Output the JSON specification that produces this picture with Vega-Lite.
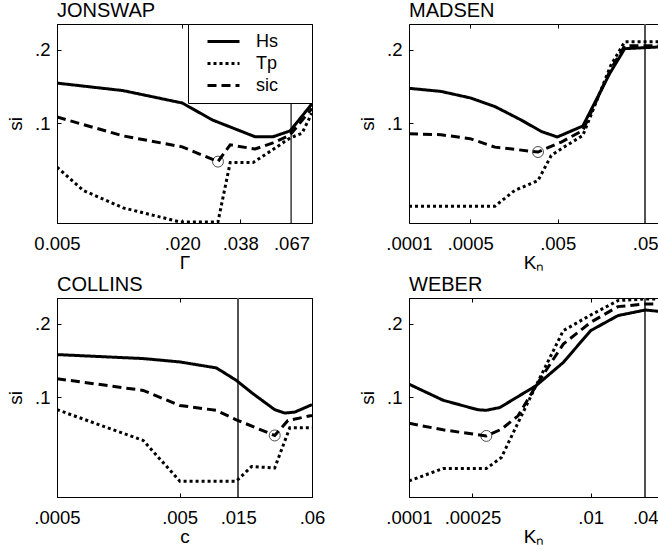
{
  "$schema": "https://vega.github.io/schema/vega-lite/v6.json",
  "autosize": {"type": "none"},
  "padding": {"left": 57, "top": 24, "right": 601, "bottom": 535},
  "background": "white",
  "datasets": {
    "jonswap": [
      {"k": 0.005, "si": 0.146, "series": "Hs"},
      {"k": 0.0104, "si": 0.136, "series": "Hs"},
      {"k": 0.02, "si": 0.121, "series": "Hs"},
      {"k": 0.028, "si": 0.103, "series": "Hs"},
      {"k": 0.0448, "si": 0.088, "series": "Hs"},
      {"k": 0.0546, "si": 0.088, "series": "Hs"},
      {"k": 0.066, "si": 0.093, "series": "Hs"},
      {"k": 0.084, "si": 0.12, "series": "Hs"},
      {"k": 0.005, "si": 0.066, "series": "Tp"},
      {"k": 0.0067, "si": 0.053, "series": "Tp"},
      {"k": 0.0104, "si": 0.045, "series": "Tp"},
      {"k": 0.0195, "si": 0.0394, "series": "Tp"},
      {"k": 0.0297, "si": 0.0394, "series": "Tp"},
      {"k": 0.034, "si": 0.069, "series": "Tp"},
      {"k": 0.0438, "si": 0.069, "series": "Tp"},
      {"k": 0.0546, "si": 0.078, "series": "Tp"},
      {"k": 0.066, "si": 0.087, "series": "Tp"},
      {"k": 0.0753, "si": 0.091, "series": "Tp"},
      {"k": 0.084, "si": 0.11, "series": "Tp"},
      {"k": 0.005, "si": 0.106, "series": "sic"},
      {"k": 0.0104, "si": 0.0887, "series": "sic"},
      {"k": 0.02, "si": 0.08, "series": "sic"},
      {"k": 0.0297, "si": 0.0696, "series": "sic"},
      {"k": 0.034, "si": 0.0815, "series": "sic"},
      {"k": 0.0448, "si": 0.0784, "series": "sic"},
      {"k": 0.0546, "si": 0.083, "series": "sic"},
      {"k": 0.066, "si": 0.0895, "series": "sic"},
      {"k": 0.084, "si": 0.115, "series": "sic"}
    ],
    "madsen": [
      {"k": 0.0001, "si": 0.139, "series": "Hs"},
      {"k": 0.000232, "si": 0.135, "series": "Hs"},
      {"k": 0.0005, "si": 0.127, "series": "Hs"},
      {"k": 0.00096, "si": 0.117, "series": "Hs"},
      {"k": 0.00192, "si": 0.103, "series": "Hs"},
      {"k": 0.00325, "si": 0.0925, "series": "Hs"},
      {"k": 0.00495, "si": 0.0878, "series": "Hs"},
      {"k": 0.0097, "si": 0.0974, "series": "Hs"},
      {"k": 0.0197, "si": 0.16, "series": "Hs"},
      {"k": 0.0292, "si": 0.202, "series": "Hs"},
      {"k": 0.075, "si": 0.2055, "series": "Hs"},
      {"k": 0.0001, "si": 0.0457, "series": "Tp"},
      {"k": 0.00096, "si": 0.0457, "series": "Tp"},
      {"k": 0.00161, "si": 0.053, "series": "Tp"},
      {"k": 0.00298, "si": 0.0582, "series": "Tp"},
      {"k": 0.00423, "si": 0.0738, "series": "Tp"},
      {"k": 0.0055, "si": 0.0786, "series": "Tp"},
      {"k": 0.0097, "si": 0.0891, "series": "Tp"},
      {"k": 0.0203, "si": 0.173, "series": "Tp"},
      {"k": 0.0292, "si": 0.2156, "series": "Tp"},
      {"k": 0.075, "si": 0.2156, "series": "Tp"},
      {"k": 0.0001, "si": 0.0905, "series": "sic"},
      {"k": 0.000232, "si": 0.0897, "series": "sic"},
      {"k": 0.0005, "si": 0.0864, "series": "sic"},
      {"k": 0.00096, "si": 0.0798, "series": "sic"},
      {"k": 0.00298, "si": 0.0762, "series": "sic"},
      {"k": 0.0055, "si": 0.0837, "series": "sic"},
      {"k": 0.0097, "si": 0.0934, "series": "sic"},
      {"k": 0.02, "si": 0.165, "series": "sic"},
      {"k": 0.0292, "si": 0.2075, "series": "sic"},
      {"k": 0.075, "si": 0.2075, "series": "sic"}
    ],
    "collins": [
      {"k": 0.0005, "si": 0.1495, "series": "Hs"},
      {"k": 0.00252, "si": 0.144, "series": "Hs"},
      {"k": 0.00502, "si": 0.1395, "series": "Hs"},
      {"k": 0.00998, "si": 0.1318, "series": "Hs"},
      {"k": 0.0145, "si": 0.1172, "series": "Hs"},
      {"k": 0.0198, "si": 0.1034, "series": "Hs"},
      {"k": 0.0298, "si": 0.0889, "series": "Hs"},
      {"k": 0.036, "si": 0.0861, "series": "Hs"},
      {"k": 0.0434, "si": 0.0869, "series": "Hs"},
      {"k": 0.06, "si": 0.0932, "series": "Hs"},
      {"k": 0.0005, "si": 0.0889, "series": "Tp"},
      {"k": 0.00252, "si": 0.0665, "series": "Tp"},
      {"k": 0.00502, "si": 0.0453, "series": "Tp"},
      {"k": 0.0145, "si": 0.0453, "series": "Tp"},
      {"k": 0.0193, "si": 0.052, "series": "Tp"},
      {"k": 0.0298, "si": 0.0513, "series": "Tp"},
      {"k": 0.0395, "si": 0.0749, "series": "Tp"},
      {"k": 0.06, "si": 0.0749, "series": "Tp"},
      {"k": 0.0005, "si": 0.1191, "series": "sic"},
      {"k": 0.00252, "si": 0.1066, "series": "sic"},
      {"k": 0.00502, "si": 0.0925, "series": "sic"},
      {"k": 0.00998, "si": 0.0883, "series": "sic"},
      {"k": 0.0145, "si": 0.0808, "series": "sic"},
      {"k": 0.0298, "si": 0.0697, "series": "sic"},
      {"k": 0.0382, "si": 0.0803, "series": "sic"},
      {"k": 0.06, "si": 0.0842, "series": "sic"}
    ],
    "weber": [
      {"k": 0.0001, "si": 0.1131, "series": "Hs"},
      {"k": 0.000237, "si": 0.0972, "series": "Hs"},
      {"k": 0.000575, "si": 0.0888, "series": "Hs"},
      {"k": 0.00071, "si": 0.0884, "series": "Hs"},
      {"k": 0.001, "si": 0.0907, "series": "Hs"},
      {"k": 0.0025, "si": 0.1114, "series": "Hs"},
      {"k": 0.005, "si": 0.1388, "series": "Hs"},
      {"k": 0.01, "si": 0.1874, "series": "Hs"},
      {"k": 0.02, "si": 0.216, "series": "Hs"},
      {"k": 0.04, "si": 0.2277, "series": "Hs"},
      {"k": 0.06, "si": 0.2243, "series": "Hs"},
      {"k": 0.0001, "si": 0.0454, "series": "Tp"},
      {"k": 0.000237, "si": 0.051, "series": "Tp"},
      {"k": 0.00071, "si": 0.051, "series": "Tp"},
      {"k": 0.00104, "si": 0.0566, "series": "Tp"},
      {"k": 0.00159, "si": 0.0787, "series": "Tp"},
      {"k": 0.0025, "si": 0.1114, "series": "Tp"},
      {"k": 0.005, "si": 0.1874, "series": "Tp"},
      {"k": 0.01, "si": 0.2171, "series": "Tp"},
      {"k": 0.02, "si": 0.2488, "series": "Tp"},
      {"k": 0.04, "si": 0.2526, "series": "Tp"},
      {"k": 0.06, "si": 0.2526, "series": "Tp"},
      {"k": 0.0001, "si": 0.0782, "series": "sic"},
      {"k": 0.000237, "si": 0.0735, "series": "sic"},
      {"k": 0.00071, "si": 0.0694, "series": "sic"},
      {"k": 0.00104, "si": 0.0739, "series": "sic"},
      {"k": 0.00159, "si": 0.0839, "series": "sic"},
      {"k": 0.0025, "si": 0.1114, "series": "sic"},
      {"k": 0.005, "si": 0.1651, "series": "sic"},
      {"k": 0.01, "si": 0.2027, "series": "sic"},
      {"k": 0.02, "si": 0.2351, "series": "sic"},
      {"k": 0.04, "si": 0.241, "series": "sic"},
      {"k": 0.06, "si": 0.241, "series": "sic"}
    ]
  },
  "columns": 2,
  "spacing": {"row": 75, "column": 97},
  "bounds": "flush",
  "resolve": {"scale": {"x": "independent", "y": "independent"}, "legend": {"strokeDash": "independent"}},
  "concat": [
    {
      "title": "JONSWAP",
      "width": 255, "height": 199,
      "data": {"name": "jonswap"},
      "resolve": {"axis": {"x": "independent"}},
      "layer": [
        {
          "mark": {"type": "rule", "color": "#555555", "strokeWidth": 0.7},
          "encoding": {"x": {"datum": 0.067, "type": "quantitative", "axis": {"orient": "top", "labels": false, "title": null, "values": [0.005, 0.02, 0.038, 0.067]}}}
        },
        {
          "mark": {"type": "line", "color": "black", "strokeWidth": 3, "strokeCap": "butt", "clip": true},
          "encoding": {
            "x": {"field": "k", "type": "quantitative", "scale": {"type": "log", "domain": [0.005, 0.0841], "nice": false},
                  "axis": {"title": "Γ", "values": [0.005, 0.02, 0.038, 0.067], "format": ".3f", "labelExpr": "datum.value < 0.01 ? datum.label : slice(datum.label, 1)"}},
            "y": {"field": "si", "type": "quantitative", "scale": {"type": "log", "domain": [0.039, 0.255], "nice": false},
                  "axis": {"title": "si", "values": [0.1, 0.2], "labelExpr": "datum.value < 0.15 ? '.1' : '.2'"}},
            "strokeDash": {"field": "series", "type": "nominal", "scale": {"domain": ["Hs", "Tp", "sic"], "range": [[1, 0], [3, 3], [9, 5]]},
                  "legend": {"orient": "top-right", "offset": 0, "title": null, "strokeColor": "black", "fillColor": "white", "padding": 8,
                             "symbolType": "M-2,0H2", "symbolSize": 256, "symbolStrokeWidth": 3, "symbolStrokeColor": "black",
                             "symbolOffset": 18, "labelOffset": 23, "labelFontSize": 18, "labelColor": "black", "rowPadding": 3,
                             "labelExpr": "datum.label + '\u00a0\u00a0\u00a0\u00a0\u00a0\u200b'"}}
          }
        },
        {
          "transform": [
            {"filter": "datum.series == 'sic'"},
            {"joinaggregate": [{"op": "min", "field": "si", "as": "smin"}]},
            {"filter": "datum.si == datum.smin"}
          ],
          "mark": {"type": "point", "shape": "circle", "filled": false, "color": "black", "size": 120, "strokeWidth": 1},
          "encoding": {"x": {"field": "k", "type": "quantitative", "axis": null}, "y": {"field": "si", "type": "quantitative"}}
        }
      ]
    },
    {
      "title": "MADSEN",
      "width": 249, "height": 199,
      "view": {"stroke": null},
      "data": {"name": "madsen"},
      "resolve": {"axis": {"x": "independent"}},
      "layer": [
        {
          "mark": {"type": "rule", "color": "#555555", "strokeWidth": 0.7},
          "encoding": {"x": {"datum": 0.05, "type": "quantitative", "axis": {"orient": "top", "labels": false, "title": null, "values": [0.0001, 0.0005, 0.005, 0.05]}}}
        },
        {
          "mark": {"type": "line", "color": "black", "strokeWidth": 3, "strokeCap": "butt", "clip": true},
          "encoding": {
            "x": {"field": "k", "type": "quantitative", "scale": {"type": "log", "domain": [0.0001, 0.0701], "nice": false},
                  "axis": {"title": "Kₙ", "values": [0.0001, 0.0005, 0.005, 0.05], "labelExpr": "datum.value < 0.0002 ? '.0001' : datum.value < 0.001 ? '.0005' : datum.value < 0.01 ? '.005' : '.05'"}},
            "y": {"field": "si", "type": "quantitative", "scale": {"type": "log", "domain": [0.039, 0.255], "nice": false},
                  "axis": {"title": "si", "values": [0.1, 0.2], "labelExpr": "datum.value < 0.15 ? '.1' : '.2'"}},
            "strokeDash": {"field": "series", "type": "nominal", "scale": {"domain": ["Hs", "Tp", "sic"], "range": [[1, 0], [3, 3], [9, 5]]}, "legend": null}
          }
        },
        {
          "transform": [
            {"filter": "datum.series == 'sic'"},
            {"joinaggregate": [{"op": "min", "field": "si", "as": "smin"}]},
            {"filter": "datum.si == datum.smin"}
          ],
          "mark": {"type": "point", "shape": "circle", "filled": false, "color": "black", "size": 120, "strokeWidth": 1},
          "encoding": {"x": {"field": "k", "type": "quantitative", "axis": null}, "y": {"field": "si", "type": "quantitative"}}
        }
      ]
    },
    {
      "title": "COLLINS",
      "width": 255, "height": 199,
      "data": {"name": "collins"},
      "resolve": {"axis": {"x": "independent"}},
      "layer": [
        {
          "mark": {"type": "rule", "color": "#555555", "strokeWidth": 0.7},
          "encoding": {"x": {"datum": 0.015, "type": "quantitative", "axis": {"orient": "top", "labels": false, "title": null, "values": [0.0005, 0.005, 0.015, 0.06]}}}
        },
        {
          "mark": {"type": "line", "color": "black", "strokeWidth": 3, "strokeCap": "butt", "clip": true},
          "encoding": {
            "x": {"field": "k", "type": "quantitative", "scale": {"type": "log", "domain": [0.0005, 0.06], "nice": false},
                  "axis": {"title": "c", "values": [0.0005, 0.005, 0.015, 0.06], "labelExpr": "datum.value < 0.001 ? '.0005' : datum.value < 0.01 ? '.005' : datum.value < 0.03 ? '.015' : '.06'"}},
            "y": {"field": "si", "type": "quantitative", "scale": {"type": "log", "domain": [0.039, 0.255], "nice": false},
                  "axis": {"title": "si", "values": [0.1, 0.2], "labelExpr": "datum.value < 0.15 ? '.1' : '.2'"}},
            "strokeDash": {"field": "series", "type": "nominal", "scale": {"domain": ["Hs", "Tp", "sic"], "range": [[1, 0], [3, 3], [9, 5]]}, "legend": null}
          }
        },
        {
          "transform": [
            {"filter": "datum.series == 'sic'"},
            {"joinaggregate": [{"op": "min", "field": "si", "as": "smin"}]},
            {"filter": "datum.si == datum.smin"}
          ],
          "mark": {"type": "point", "shape": "circle", "filled": false, "color": "black", "size": 120, "strokeWidth": 1},
          "encoding": {"x": {"field": "k", "type": "quantitative", "axis": null}, "y": {"field": "si", "type": "quantitative"}}
        }
      ]
    },
    {
      "title": "WEBER",
      "width": 249, "height": 199,
      "view": {"stroke": null},
      "data": {"name": "weber"},
      "resolve": {"axis": {"x": "independent"}},
      "layer": [
        {
          "mark": {"type": "rule", "color": "#555555", "strokeWidth": 0.7},
          "encoding": {"x": {"datum": 0.04, "type": "quantitative", "axis": {"orient": "top", "labels": false, "title": null, "values": [0.0001, 0.0005, 0.01, 0.04]}}}
        },
        {
          "mark": {"type": "line", "color": "black", "strokeWidth": 3, "strokeCap": "butt", "clip": true},
          "encoding": {
            "x": {"field": "k", "type": "quantitative", "scale": {"type": "log", "domain": [0.0001, 0.0552], "nice": false},
                  "axis": {"title": "Kₙ", "values": [0.0001, 0.0005, 0.01, 0.04], "labelExpr": "datum.value < 0.0002 ? '.0001' : datum.value < 0.001 ? '.00025' : datum.value < 0.02 ? '.01' : '.04'"}},
            "y": {"field": "si", "type": "quantitative", "scale": {"type": "log", "domain": [0.039, 0.255], "nice": false},
                  "axis": {"title": "si", "values": [0.1, 0.2], "labelExpr": "datum.value < 0.15 ? '.1' : '.2'"}},
            "strokeDash": {"field": "series", "type": "nominal", "scale": {"domain": ["Hs", "Tp", "sic"], "range": [[1, 0], [3, 3], [9, 5]]}, "legend": null}
          }
        },
        {
          "transform": [
            {"filter": "datum.series == 'sic'"},
            {"joinaggregate": [{"op": "min", "field": "si", "as": "smin"}]},
            {"filter": "datum.si == datum.smin"}
          ],
          "mark": {"type": "point", "shape": "circle", "filled": false, "color": "black", "size": 120, "strokeWidth": 1},
          "encoding": {"x": {"field": "k", "type": "quantitative", "axis": null}, "y": {"field": "si", "type": "quantitative"}}
        }
      ]
    }
  ],
  "config": {
    "font": "Liberation Sans",
    "view": {"stroke": "black", "strokeWidth": 1},
    "title": {"fontSize": 20, "fontWeight": "normal", "anchor": "start", "frame": "group", "offset": 3, "color": "black", "font": "Liberation Sans"},
    "axis": {"domainColor": "black", "domainWidth": 1, "tickColor": "black", "tickSize": -4, "tickWidth": 1,
             "labelFont": "Liberation Sans", "labelFontSize": 18.5, "labelColor": "black", "labelPadding": 11,
             "titleFont": "Liberation Sans", "titleFontSize": 19, "titleFontWeight": "normal", "titleColor": "black", "grid": false},
    "axisX": {"labelPadding": 15, "titlePadding": 1, "labelFlush": false, "labelOverlap": false},
    "axisY": {"titlePadding": 9, "labelOverlap": false},
    "legend": {"labelFont": "Liberation Sans"}
  }
}
